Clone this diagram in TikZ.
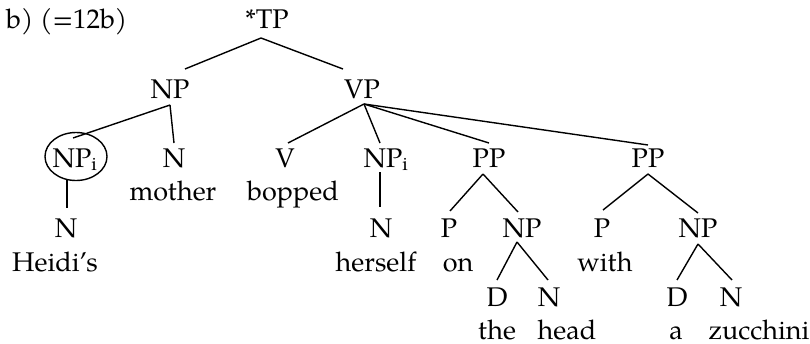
\documentclass[tikz,border=0pt]{standalone}
\usepackage{fontspec}
\setmainfont{TeX Gyre Pagella}
\begin{document}
\begin{tikzpicture}[x=1pt,y=-1pt,
  lab/.style={anchor=base,inner sep=0pt,text height=17pt,text depth=0pt,outer ysep=7pt,font=\fontsize{27}{31}\selectfont},
  word/.style={anchor=base,inner sep=0pt,text depth=0pt,font=\fontsize{27}{31}\selectfont},
  edge/.style={line width=1.4pt}]
\useasboundingbox (0,0) rectangle (810,343);
\node[word,anchor=base west] (title) at (6,28) {b) (=12b)};
\node[lab] (TP) at (267,28) {*TP};
\node[lab] (NP1) at (170,98) {NP};
\node[lab] (VP) at (362,98) {VP};
\node[lab] (NPi) at (75,167) {NP\textsubscript{i}};
\node[lab] (Nm) at (174,167) {N};
\node[lab] (V) at (285,167) {V};
\node[lab] (NPj) at (386,167) {NP\textsubscript{i}};
\node[lab] (PP1) at (489,167) {PP};
\node[lab] (PP2) at (648,167) {PP};
\node[word] (mother) at (173,200) {mother};
\node[word] (bopped) at (293,200) {bopped};
\node[lab] (NH) at (66,237) {N};
\node[lab] (Nh) at (381,237) {N};
\node[lab] (P1) at (449,237) {P};
\node[lab] (NP3) at (522,237) {NP};
\node[lab] (P2) at (602,237) {P};
\node[lab] (NP4) at (698,237) {NP};
\node[word] (heidis) at (55,271) {Heidi’s};
\node[word] (herself) at (376,271) {herself};
\node[word] (on) at (458,271) {on};
\node[word] (with) at (605,271) {with};
\node[lab] (D1) at (497,306) {D};
\node[lab] (N1) at (549,306) {N};
\node[lab] (D2) at (677,306) {D};
\node[lab] (N2) at (731,306) {N};
\node[word] (the) at (497,339) {the};
\node[word] (head) at (567,339) {head};
\node[word] (a) at (676,339) {a};
\node[word] (zucchini) at (759,339) {zucchini};
\draw[edge] ([shift={(1,-2)}]NPi.center) ellipse [x radius=31, y radius=24];
\draw[edge] ([shift={(-6,3)}]TP.south) -- ([shift={(15,-5)}]NP1.north);
\draw[edge] ([shift={(-6,3)}]TP.south) -- ([shift={(-19,-5)}]VP.north);
\draw[edge] (NP1.south) -- ([shift={(-2,-5)}]NPi.north);
\draw[edge] (NP1.south) -- (Nm.north);
\draw[edge] ([shift={(2,-1)}]VP.south) -- ([shift={(3,0)}]V.north);
\draw[edge] ([shift={(2,-1)}]VP.south) -- ([shift={(-6,0)}]NPj.north);
\draw[edge] ([shift={(2,-1)}]VP.south) -- (PP1.north);
\draw[edge] ([shift={(2,-1)}]VP.south) -- ([shift={(0,2)}]PP2.north);
\draw[edge] ([shift={(-8,5)}]NPi.south) -- ([shift={(1,-5)}]NH.north);
\draw[edge] ([shift={(-6,-2)}]NPj.south) -- ([shift={(-1,-6)}]Nh.north);
\draw[edge] ([shift={(-6,0)}]PP1.south) -- ([shift={(1,-2)}]P1.north);
\draw[edge] ([shift={(-6,0)}]PP1.south) -- ([shift={(-4,-1)}]NP3.north);
\draw[edge] ([shift={(-5,-2)}]NP3.south) -- ([shift={(0,-2)}]D1.north);
\draw[edge] ([shift={(-5,-2)}]NP3.south) -- ([shift={(-1,-2)}]N1.north);
\draw[edge] (PP2.south) -- ([shift={(1,-3)}]P2.north);
\draw[edge] (PP2.south) -- (NP4.north);
\draw[edge] (NP4.south) -- ([shift={(0,-2)}]D2.north);
\draw[edge] (NP4.south) -- ([shift={(1,-2)}]N2.north);
\end{tikzpicture}
\end{document}
